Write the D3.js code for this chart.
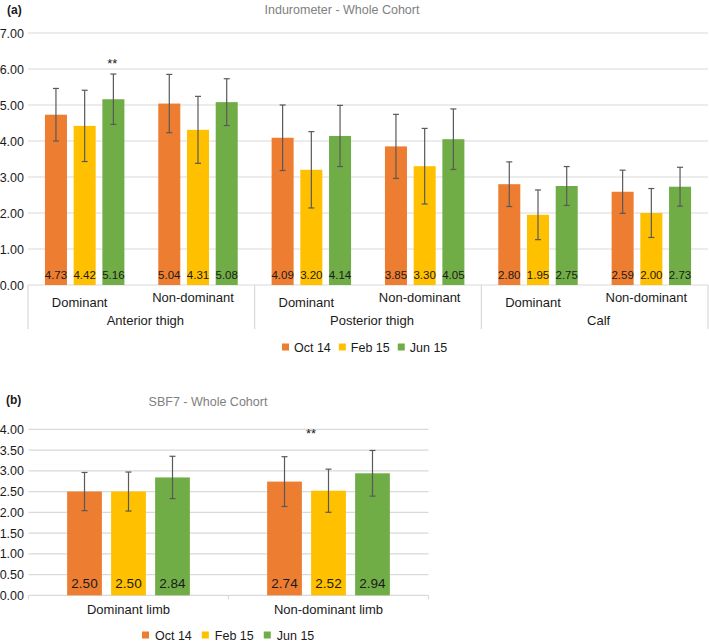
<!DOCTYPE html>
<html>
<head>
<meta charset="utf-8">
<script src="https://cdn.jsdelivr.net/npm/d3@7"></script>
<style>
  html, body { margin: 0; padding: 0; background: #fff; }
  svg { display: block; font-family: "Liberation Sans", Arial, Helvetica, sans-serif; }
</style>
</head>
<body>
<svg id="chart" width="709" height="642"></svg>
<script>
// ---------- DATA ----------
const series = ["Oct 14", "Feb 15", "Jun 15"];
const colors = ["#ED7D31", "#FFC000", "#70AD47"];

// (a) Indurometer
const topGroups = ["Anterior thigh", "Posterior thigh", "Calf"];
const topSubs = ["Dominant", "Non-dominant"];
const topOct = [4.73, 5.04, 4.09, 3.85, 2.80, 2.59];
const topFeb = [4.42, 4.31, 3.20, 3.30, 1.95, 2.00];
const topJun = [5.16, 5.08, 4.14, 4.05, 2.75, 2.73];
const topOctErr = [0.73, 0.81, 0.91, 0.89, 0.62, 0.60];
const topFebErr = [0.99, 0.93, 1.06, 1.05, 0.69, 0.68];
const topJunErr = [0.70, 0.65, 0.85, 0.84, 0.54, 0.54];
const topTicks = [0, 1, 2, 3, 4, 5, 6, 7];

// (b) SBF7
const botCats = ["Dominant limb", "Non-dominant limb"];
const botOct = [2.50, 2.74];
const botFeb = [2.50, 2.52];
const botJun = [2.84, 2.94];
const botOctErr = [0.46, 0.60];
const botFebErr = [0.47, 0.52];
const botJunErr = [0.51, 0.55];
const botTicks = [0, 0.5, 1, 1.5, 2, 2.5, 3, 3.5, 4];

// ---------- DRAW ----------
const svg = d3.select("#chart");
const gridColor = "#d9d9d9";
const errColor = "#595959";
const textColor = "#1a1a1a";

function legend(x0, yc, gapAfterSquare, gapAfterText) {
  const g = svg.append("g");
  let x = x0;
  series.forEach((s, i) => {
    g.append("rect").attr("x", x).attr("y", yc - 3.5).attr("width", 7).attr("height", 7).attr("fill", colors[i]);
    x += 7 + gapAfterSquare;
    const t = g.append("text").attr("x", x).attr("y", yc + 4.5)
      .attr("font-size", 12.5).attr("fill", textColor).text(s);
    x += t.node().getComputedTextLength() + gapAfterText;
  });
}

// ===== Chart (a) =====
(function () {
  const y = d3.scaleLinear().domain([0, 7]).range([285, 33]);
  const x0 = 28, x1 = 708;
  const subIdx = d3.range(topGroups.length * topSubs.length);
  const xSub = d3.scaleBand().domain(subIdx).range([x0, x1]);
  const xIn = d3.scaleBand().domain(series).range([0, xSub.bandwidth()]).paddingInner(0.233).paddingOuter(0.59);
  const xGroup = d3.scaleBand().domain(topGroups).range([x0, x1]);

  // gridlines
  svg.append("g").selectAll("line").data(topTicks).join("line")
    .attr("x1", x0).attr("x2", x1).attr("y1", d => y(d)).attr("y2", d => y(d))
    .attr("stroke", gridColor).attr("stroke-width", 1.2);

  // y labels
  const yAxis = d3.axisLeft(y).tickValues(topTicks).tickFormat(d3.format(".2f")).tickSize(0).tickPadding(4);
  const ya = svg.append("g").attr("transform", `translate(${x0},0)`).call(yAxis);
  ya.select(".domain").remove();
  ya.selectAll("text").attr("font-size", 12.5).attr("fill", textColor).attr("font-family", null);

  // group separators
  const seps = topGroups.map(g => xGroup(g)).concat([x1]);
  svg.append("g").selectAll("line").data(seps).join("line")
    .attr("x1", d => d).attr("x2", d => d).attr("y1", y(0)).attr("y2", 329)
    .attr("stroke", gridColor).attr("stroke-width", 1.2);

  const vals = [topOct, topFeb, topJun];
  const errs = [topOctErr, topFebErr, topJunErr];
  const data = [];
  subIdx.forEach(i => series.forEach((s, k) => data.push({ i, s, k, v: vals[k][i], e: errs[k][i] })));

  svg.append("g").selectAll("rect").data(data).join("rect")
    .attr("x", d => xSub(d.i) + xIn(d.s)).attr("width", xIn.bandwidth())
    .attr("y", d => y(d.v)).attr("height", d => y(0) - y(d.v))
    .attr("fill", d => colors[d.k]);

  // error bars
  const eg = svg.append("g").attr("stroke", errColor).attr("stroke-width", 1.2);
  data.forEach(d => {
    const cx = xSub(d.i) + xIn(d.s) + xIn.bandwidth() / 2;
    eg.append("line").attr("x1", cx).attr("x2", cx).attr("y1", y(d.v + d.e)).attr("y2", y(d.v - d.e));
    [d.v + d.e, d.v - d.e].forEach(v => eg.append("line").attr("x1", cx - 3).attr("x2", cx + 3).attr("y1", y(v)).attr("y2", y(v)));
  });

  // value labels
  svg.append("g").selectAll("text").data(data).join("text")
    .attr("x", d => xSub(d.i) + xIn(d.s) + xIn.bandwidth() / 2).attr("y", 279)
    .attr("text-anchor", "middle").attr("font-size", 11.5).attr("fill", textColor)
    .text(d => d.v.toFixed(2));

  // sub labels
  svg.append("g").selectAll("text").data(subIdx).join("text")
    .attr("x", i => xSub(i) + xSub.bandwidth() / 2 - 5)
    .attr("y", i => (i % 2 === 0 ? 306.5 : 301.5))
    .attr("text-anchor", "middle").attr("font-size", 13).attr("fill", textColor)
    .text(i => topSubs[i % 2]);

  // group labels
  svg.append("g").selectAll("text").data(topGroups).join("text")
    .attr("x", g => xGroup(g) + xGroup.bandwidth() / 2 + 4).attr("y", 324.5)
    .attr("text-anchor", "middle").attr("font-size", 13).attr("fill", textColor)
    .text(g => g);

  // significance
  svg.append("text").attr("x", xSub(0) + xIn("Jun 15") + xIn.bandwidth() / 2 - 1).attr("y", 67.5)
    .attr("text-anchor", "middle").attr("font-size", 13).attr("fill", textColor).text("**");

  // titles
  svg.append("text").attr("x", 7).attr("y", 13.5).attr("font-size", 12).attr("font-weight", "bold").attr("fill", textColor).text("(a)");
  svg.append("text").attr("x", 342).attr("y", 13.5).attr("text-anchor", "middle").attr("font-size", 12.5).attr("fill", "#808080").text("Indurometer - Whole Cohort");

  legend(282, 347, 5, 8);
})();

// ===== Chart (b) =====
(function () {
  const y = d3.scaleLinear().domain([0, 4]).range([595.3, 429.3]);
  const x0 = 28.5, x1 = 428.5;
  const xCat = d3.scaleBand().domain(botCats).range([x0, x1]);
  const xIn = d3.scaleBand().domain(series).range([0, xCat.bandwidth()]).paddingInner(0.21).paddingOuter(0.878);

  svg.append("g").selectAll("line").data(botTicks).join("line")
    .attr("x1", x0).attr("x2", x1).attr("y1", d => y(d)).attr("y2", d => y(d))
    .attr("stroke", gridColor).attr("stroke-width", 1.2);

  const yAxis = d3.axisLeft(y).tickValues(botTicks).tickFormat(d3.format(".2f")).tickSize(0).tickPadding(4.5);
  const ya = svg.append("g").attr("transform", `translate(${x0},0)`).call(yAxis);
  ya.select(".domain").remove();
  ya.selectAll("text").attr("font-size", 12.5).attr("fill", textColor).attr("font-family", null);

  const ticksX = botCats.map(c => xCat(c)).concat([x1]);
  svg.append("g").selectAll("line").data(ticksX).join("line")
    .attr("x1", d => d).attr("x2", d => d).attr("y1", y(0)).attr("y2", y(0) + 4)
    .attr("stroke", gridColor).attr("stroke-width", 1.2);

  const vals = [botOct, botFeb, botJun];
  const errs = [botOctErr, botFebErr, botJunErr];
  const data = [];
  botCats.forEach((c, i) => series.forEach((s, k) => data.push({ c, s, k, v: vals[k][i], e: errs[k][i] })));

  svg.append("g").selectAll("rect").data(data).join("rect")
    .attr("x", d => xCat(d.c) + xIn(d.s)).attr("width", xIn.bandwidth())
    .attr("y", d => y(d.v)).attr("height", d => y(0) - y(d.v))
    .attr("fill", d => colors[d.k]);

  const eg = svg.append("g").attr("stroke", errColor).attr("stroke-width", 1.2);
  data.forEach(d => {
    const cx = xCat(d.c) + xIn(d.s) + xIn.bandwidth() / 2;
    eg.append("line").attr("x1", cx).attr("x2", cx).attr("y1", y(d.v + d.e)).attr("y2", y(d.v - d.e));
    [d.v + d.e, d.v - d.e].forEach(v => eg.append("line").attr("x1", cx - 3).attr("x2", cx + 3).attr("y1", y(v)).attr("y2", y(v)));
  });

  svg.append("g").selectAll("text").data(data).join("text")
    .attr("x", d => xCat(d.c) + xIn(d.s) + xIn.bandwidth() / 2).attr("y", 588)
    .attr("text-anchor", "middle").attr("font-size", 13.5).attr("fill", textColor)
    .text(d => d.v.toFixed(2));

  svg.append("g").selectAll("text").data(botCats).join("text")
    .attr("x", c => xCat(c) + xCat.bandwidth() / 2).attr("y", 613.5)
    .attr("text-anchor", "middle").attr("font-size", 13).attr("fill", textColor)
    .text(c => c);

  svg.append("text").attr("x", xCat("Non-dominant limb") + xCat.bandwidth() / 2 - 17.5).attr("y", 438)
    .attr("text-anchor", "middle").attr("font-size", 13).attr("fill", textColor).text("**");

  svg.append("text").attr("x", 6).attr("y", 404).attr("font-size", 12).attr("font-weight", "bold").attr("fill", textColor).text("(b)");
  svg.append("text").attr("x", 208).attr("y", 406).attr("text-anchor", "middle").attr("font-size", 12.5).attr("fill", "#808080").text("SBF7 - Whole Cohort");

  legend(142, 635, 6, 10);
})();
</script>
</body>
</html>
